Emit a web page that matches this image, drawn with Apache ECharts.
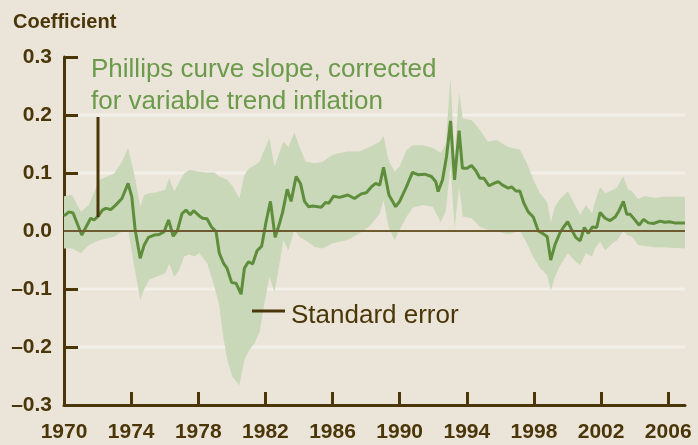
<!DOCTYPE html>
<html>
<head>
<meta charset="utf-8">
<script src="https://cdn.jsdelivr.net/npm/echarts@6/dist/echarts.min.js"></script>
<style>
  html, body { margin: 0; padding: 0; background: #ebe4d8; }
  #chart { width: 698px; height: 445px; }
</style>
</head>
<body>
<div id="chart"></div>
<script>
// quarterly estimate of the slope
const lineYears = [1970.00, 1970.30, 1970.54, 1971.06, 1971.59, 1971.79, 1972.05, 1972.29, 1972.49, 1972.79,
  1973.09, 1973.45, 1973.82, 1974.04, 1974.24, 1974.54, 1974.78, 1975.03, 1975.37, 1975.67,
  1975.97, 1976.23, 1976.51, 1976.76, 1977.03, 1977.27, 1977.52, 1977.72, 1978.06, 1978.26,
  1978.52, 1978.79, 1979.06, 1979.25, 1979.51, 1979.71, 1979.99, 1980.25, 1980.55, 1980.75,
  1980.99, 1981.24, 1981.50, 1981.78, 1982.04, 1982.30, 1982.58, 1982.84, 1983.03, 1983.30,
  1983.53, 1983.83, 1984.09, 1984.33, 1984.57, 1984.82, 1985.33, 1985.58, 1985.78, 1986.06,
  1986.42, 1986.91, 1987.31, 1987.71, 1988.01, 1988.31, 1988.57, 1988.81, 1989.04, 1989.36,
  1989.76, 1990.00, 1990.40, 1990.76, 1991.09, 1991.49, 1991.89, 1992.15, 1992.29, 1992.55,
  1992.79, 1993.03, 1993.27, 1993.54, 1993.74, 1994.02, 1994.28, 1994.54, 1994.78, 1995.01,
  1995.33, 1995.61, 1995.87, 1996.13, 1996.47, 1996.67, 1996.93, 1997.16, 1997.40, 1997.66,
  1997.96, 1998.26, 1998.56, 1998.79, 1999.00, 1999.25, 1999.55, 1999.75, 2000.01, 2000.25,
  2000.49, 2000.75, 2001.00, 2001.24, 2001.48, 2001.74, 2001.94, 2002.24, 2002.54, 2002.84,
  2003.07, 2003.33, 2003.53, 2003.73, 2003.99, 2004.27, 2004.53, 2004.82, 2005.12, 2005.52,
  2005.78, 2006.06, 2006.38, 2007.00]
const slope = [0.026, 0.033, 0.031, -0.007, 0.022, 0.019, 0.026, 0.036, 0.039, 0.037,
  0.045, 0.056, 0.082, 0.059, 0.002, -0.047, -0.024, -0.011, -0.007, -0.006,
  -0.001, 0.019, -0.009, 0.001, 0.030, 0.036, 0.028, 0.035, 0.026, 0.022,
  0.021, 0.007, -0.001, -0.038, -0.056, -0.064, -0.089, -0.090, -0.109, -0.064,
  -0.053, -0.057, -0.034, -0.026, 0.016, 0.051, -0.011, 0.013, 0.033, 0.072,
  0.051, 0.094, 0.082, 0.051, 0.042, 0.043, 0.041, 0.049, 0.048, 0.060,
  0.058, 0.062, 0.056, 0.064, 0.066, 0.076, 0.082, 0.079, 0.110, 0.062,
  0.042, 0.051, 0.076, 0.101, 0.097, 0.098, 0.094, 0.085, 0.068, 0.088,
  0.128, 0.190, 0.088, 0.173, 0.108, 0.108, 0.113, 0.104, 0.091, 0.091,
  0.078, 0.082, 0.085, 0.079, 0.074, 0.076, 0.069, 0.069, 0.048, 0.033,
  0.024, 0.000, -0.005, -0.010, -0.050, -0.024, -0.003, 0.006, 0.016, 0.002,
  -0.011, -0.017, 0.006, -0.004, 0.007, 0.006, 0.032, 0.022, 0.018, 0.024,
  0.035, 0.051, 0.029, 0.029, 0.020, 0.010, 0.020, 0.014, 0.013, 0.017,
  0.015, 0.016, 0.014, 0.014]

// standard error band edges
const bandYears = [1970.00, 1970.48, 1971.01, 1971.49, 1972.09, 1972.99, 1973.46, 1973.82, 1974.18, 1974.54,
  1974.78, 1975.07, 1975.49, 1976.03, 1976.27, 1976.57, 1976.87, 1977.16, 1977.46, 1977.76,
  1978.06, 1978.54, 1978.96, 1979.25, 1979.49, 1979.73, 1980.03, 1980.45, 1980.75, 1981.04,
  1981.34, 1981.64, 1981.94, 1982.24, 1982.54, 1982.84, 1983.07, 1983.37, 1983.73, 1984.03,
  1984.39, 1984.93, 1985.40, 1986.00, 1986.84, 1987.61, 1988.21, 1988.81, 1989.04, 1989.34,
  1989.70, 1990.00, 1990.42, 1990.78, 1991.37, 1991.97, 1992.45, 1992.75, 1993.03, 1993.27,
  1993.54, 1993.76, 1994.30, 1994.78, 1995.25, 1995.79, 1996.45, 1997.16, 1997.58, 1997.94,
  1998.18, 1998.36, 1998.78, 1999.01, 1999.25, 1999.55, 2000.03, 2000.39, 2000.75, 2001.10,
  2001.46, 2001.64, 2001.94, 2002.24, 2002.72, 2002.96, 2003.31, 2003.61, 2003.85, 2004.21,
  2004.63, 2005.22, 2005.64, 2007.00]
const bandHigh = [0.060, 0.062, 0.033, 0.045, 0.088, 0.099, 0.120, 0.143, 0.099, 0.042,
  0.062, 0.065, 0.067, 0.071, 0.091, 0.068, 0.085, 0.099, 0.105, 0.104,
  0.102, 0.101, 0.101, 0.094, 0.091, 0.088, 0.078, 0.056, 0.097, 0.108,
  0.113, 0.119, 0.140, 0.160, 0.111, 0.135, 0.154, 0.145, 0.170, 0.145,
  0.120, 0.117, 0.119, 0.131, 0.137, 0.137, 0.145, 0.154, 0.164, 0.122,
  0.102, 0.111, 0.140, 0.148, 0.148, 0.143, 0.135, 0.150, 0.266, 0.125,
  0.240, 0.194, 0.191, 0.174, 0.154, 0.157, 0.145, 0.140, 0.117, 0.090,
  0.076, 0.065, 0.050, 0.015, 0.042, 0.055, 0.068, 0.048, 0.028, 0.045,
  0.030, 0.050, 0.076, 0.065, 0.071, 0.075, 0.094, 0.072, 0.068, 0.055,
  0.060, 0.057, 0.059, 0.059]
const bandLow = [-0.030, -0.030, -0.038, -0.024, -0.016, -0.010, -0.001, 0.002, -0.060, -0.119,
  -0.100, -0.084, -0.079, -0.073, -0.056, -0.079, -0.067, -0.044, -0.040, -0.044,
  -0.038, -0.056, -0.096, -0.128, -0.182, -0.222, -0.251, -0.266, -0.222, -0.205,
  -0.194, -0.176, -0.125, -0.079, -0.105, -0.056, -0.016, -0.033, 0.002, -0.010,
  -0.016, -0.027, -0.030, -0.021, -0.016, -0.004, 0.008, 0.030, 0.053, 0.007,
  -0.016, 0.002, 0.025, 0.040, 0.045, 0.042, 0.015, 0.035, 0.114, 0.005,
  0.076, 0.025, 0.022, 0.007, 0.002, -0.001, -0.005, 0.000, -0.021, -0.044,
  -0.055, -0.064, -0.076, -0.102, -0.079, -0.060, -0.038, -0.050, -0.059, -0.038,
  -0.044, -0.030, -0.018, -0.033, -0.020, -0.016, -0.001, -0.008, -0.010, -0.024,
  -0.026, -0.028, -0.028, -0.030]

const yearLabels = [1970, 1974, 1978, 1982, 1986, 1990, 1994, 1998, 2002, 2006]
const yearTicks = [1974, 1978, 1982, 1986, 1990, 1994, 1998, 2002, 2006]
const gridValues = [0.2, 0.1, -0.1, -0.2]

const brown = '#4a3608'
const green = '#5e8d3b'
const labelFont = 'Liberation Sans, Arial, sans-serif'
const xMin = 1970
const xMax = 2007

const chart = echarts.init(document.getElementById('chart'))

// standard error band as one polygon, light gridlines first so the band covers them
function renderBand(params, api) {
  if (params.dataIndex !== 0) return null
  const children = gridValues.map(v => {
    const a = api.coord([xMin, v])
    const b = api.coord([xMax, v])
    return {
      type: 'rect',
      z2: 1,
      shape: { x: a[0] + 14, y: a[1] - 1.5, width: b[0] - a[0] - 14, height: 3 },
      style: { fill: '#f3f0ea' }
    }
  })
  const pts = []
  bandYears.forEach((y, i) => pts.push(api.coord([y, bandHigh[i]])))
  for (let i = bandYears.length - 1; i >= 0; i--) {
    pts.push(api.coord([bandYears[i], bandLow[i]]))
  }
  children.push({
    type: 'polygon',
    z2: 2,
    shape: { points: pts },
    style: { fill: '#c8d8b8' }
  })
  return { type: 'group', children: children }
}

chart.setOption({
  backgroundColor: '#ebe4d8',
  animation: false,
  grid: { left: 64, right: 13, top: 57, bottom: 40 },
  xAxis: {
    type: 'value',
    min: xMin,
    max: xMax,
    axisLine: { onZero: false, lineStyle: { color: brown, width: 3 } },
    axisTick: {
      inside: true,
      length: 13,
      customValues: yearTicks,
      lineStyle: { color: brown, width: 3 }
    },
    axisLabel: {
      customValues: yearLabels,
      formatter: v => String(v),
      color: brown,
      fontFamily: labelFont,
      fontWeight: 'bold',
      fontSize: 21,
      margin: 17
    },
    splitLine: { show: false }
  },
  yAxis: {
    type: 'value',
    min: -0.3,
    max: 0.3,
    interval: 0.1,
    axisLine: { show: true, onZero: false, lineStyle: { color: brown, width: 3 } },
    axisTick: {
      show: true,
      inside: true,
      length: 14,
      lineStyle: { color: brown, width: 3 }
    },
    axisLabel: {
      formatter: v => (v < -0.001 ? '\u2013' : '') + Math.abs(v).toFixed(1),
      color: brown,
      fontFamily: labelFont,
      fontWeight: 'bold',
      fontSize: 21,
      margin: 12
    },
    splitLine: { show: false }
  },
  series: [
    {
      name: 'Standard error',
      type: 'custom',
      renderItem: renderBand,
      data: [[bandYears[0], bandHigh[0]]],
      encode: { x: 0, y: 1 },
      silent: true,
      z: 2
    },
    {
      name: 'Phillips curve slope',
      type: 'line',
      data: lineYears.map((y, i) => [y, slope[i]]),
      showSymbol: false,
      lineStyle: { color: green, width: 3 },
      markLine: {
        silent: true,
        symbol: 'none',
        label: { show: false },
        lineStyle: { color: '#6e5c30', width: 2, type: 'solid' },
        data: [{ yAxis: 0 }]
      },
      z: 3
    }
  ],
  graphic: [
    {
      type: 'text',
      left: 13,
      top: 12,
      z: 100,
      style: { text: 'Coefficient', font: 'bold 20px ' + labelFont, fill: brown }
    },
    {
      type: 'text',
      left: 91,
      top: 57,
      z: 100,
      style: { text: 'Phillips curve slope, corrected', font: '26px ' + labelFont, fill: '#6a9a4a' }
    },
    {
      type: 'text',
      left: 91,
      top: 89,
      z: 100,
      style: { text: 'for variable trend inflation', font: '26px ' + labelFont, fill: '#6a9a4a' }
    },
    {
      type: 'line',
      z: 100,
      shape: { x1: 98, y1: 117, x2: 98, y2: 217 },
      style: { stroke: brown, lineWidth: 3 }
    },
    {
      type: 'text',
      left: 291,
      top: 303,
      z: 100,
      style: { text: 'Standard error', font: '26px ' + labelFont, fill: brown }
    },
    {
      type: 'line',
      z: 100,
      shape: { x1: 252, y1: 311, x2: 285, y2: 311 },
      style: { stroke: brown, lineWidth: 3 }
    }
  ]
})
</script>
</body>
</html>
